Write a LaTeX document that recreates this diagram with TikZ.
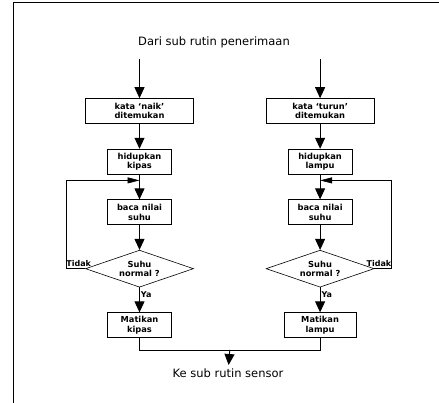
\documentclass[tikz,border=0pt]{standalone}
\usepackage{fontspec}
\setsansfont{DejaVu Sans}
\usetikzlibrary{positioning, matrix, arrows.meta, shapes.geometric, calc}

\begin{document}
\begin{tikzpicture}[x=1pt, y=-1pt,
            box/.style={draw, line width=0.6pt, rectangle, minimum width=64pt, minimum height=25pt,
              inner sep=2pt, align=center, anchor=center,
              font=\sffamily\bfseries\fontsize{8.3}{9.5}\selectfont},
            wbox/.style={box, minimum width=108pt},
            dec/.style={draw, line width=0.6pt, diamond, aspect=2.9, minimum width=108pt,
              minimum height=37pt, inner sep=0pt, align=center, anchor=center,
              font=\sffamily\bfseries\fontsize{8.3}{9.5}\selectfont},
            lbl/.style={inner sep=1pt, font=\sffamily\bfseries\fontsize{8}{9}\selectfont},
            term/.style={font=\sffamily\fontsize{11.5}{13}\selectfont},
            ->/.style={-{Triangle[width=10pt, length=11pt]}, line width=0.9pt},
            ret/.style={-{Triangle[width=6pt, length=12pt]}, line width=0.6pt}]
          \useasboundingbox (0,0) rectangle (439,403);
          \draw[thin] (13,403) -- (13,2) -- (439,2);
          \node[term] (t) at (214,42) {Dari sub rutin penerimaan};
          \matrix[row sep=25pt, column sep=72pt, inner sep=0pt, anchor=north west] at (85,98) {
            \node[wbox] (k1) {kata `naik'\\ditemukan}; & \node[wbox] (k2) {kata `turun'\\ditemukan};\\
            \node[box] (h1) {hidupkan\\kipas}; & \node[box] (h2) {hidupkan\\lampu};\\
            \node[box] (b1) {baca nilai\\suhu}; & \node[box] (b2) {baca nilai\\suhu};\\
            \node[dec] (d1) {Suhu\\normal ?}; & \node[dec] (d2) {Suhu\\normal ?};\\
            \node[box] (m1) {Matikan\\kipas}; & \node[box, minimum width=72pt] (m2) {Matikan\\lampu};\\
          };
          \node[term] (e) at (228,373) {Ke sub rutin sensor};
          \coordinate (j1) at ([yshift=-6pt]h1.south);
          \coordinate (j2) at ([yshift=-6pt]h2.south);
          \coordinate (mg) at ([yshift=-12pt]$(m1.south)!0.5!(m2.south)$);
          \draw [->] ([yshift=-8pt]t.south -| k1) to (k1);
          \draw [->] ([yshift=-8pt]t.south -| k2) to (k2);
          \draw [->] (k1) to (h1);
          \draw [->] (k2) to (h2);
          \draw [->] (h1) to (b1);
          \draw [->] (h2) to (b2);
          \draw [->] (b1) to (d1);
          \draw [->] (b2) to (d2);
          \draw [->] (d1) to node[lbl, right, pos=0.3] {Ya} (m1);
          \draw [->] (d2) to node[lbl, right, pos=0.3] {Ya} (m2);
          \draw [ret] (d1.west) -- node[lbl, above, xshift=3pt, yshift=1pt] {Tidak} ++(-19,0) |- (j1);
          \draw [ret] (d2.east) -- node[lbl, above, xshift=-4pt, yshift=1pt] {Tidak} ++(17,0) |- (j2);
          \draw [line width=0.6pt] (m1) |- (mg) -| (m2);
          \draw [->] (mg) to (e);
        \end{tikzpicture}
\end{document}
